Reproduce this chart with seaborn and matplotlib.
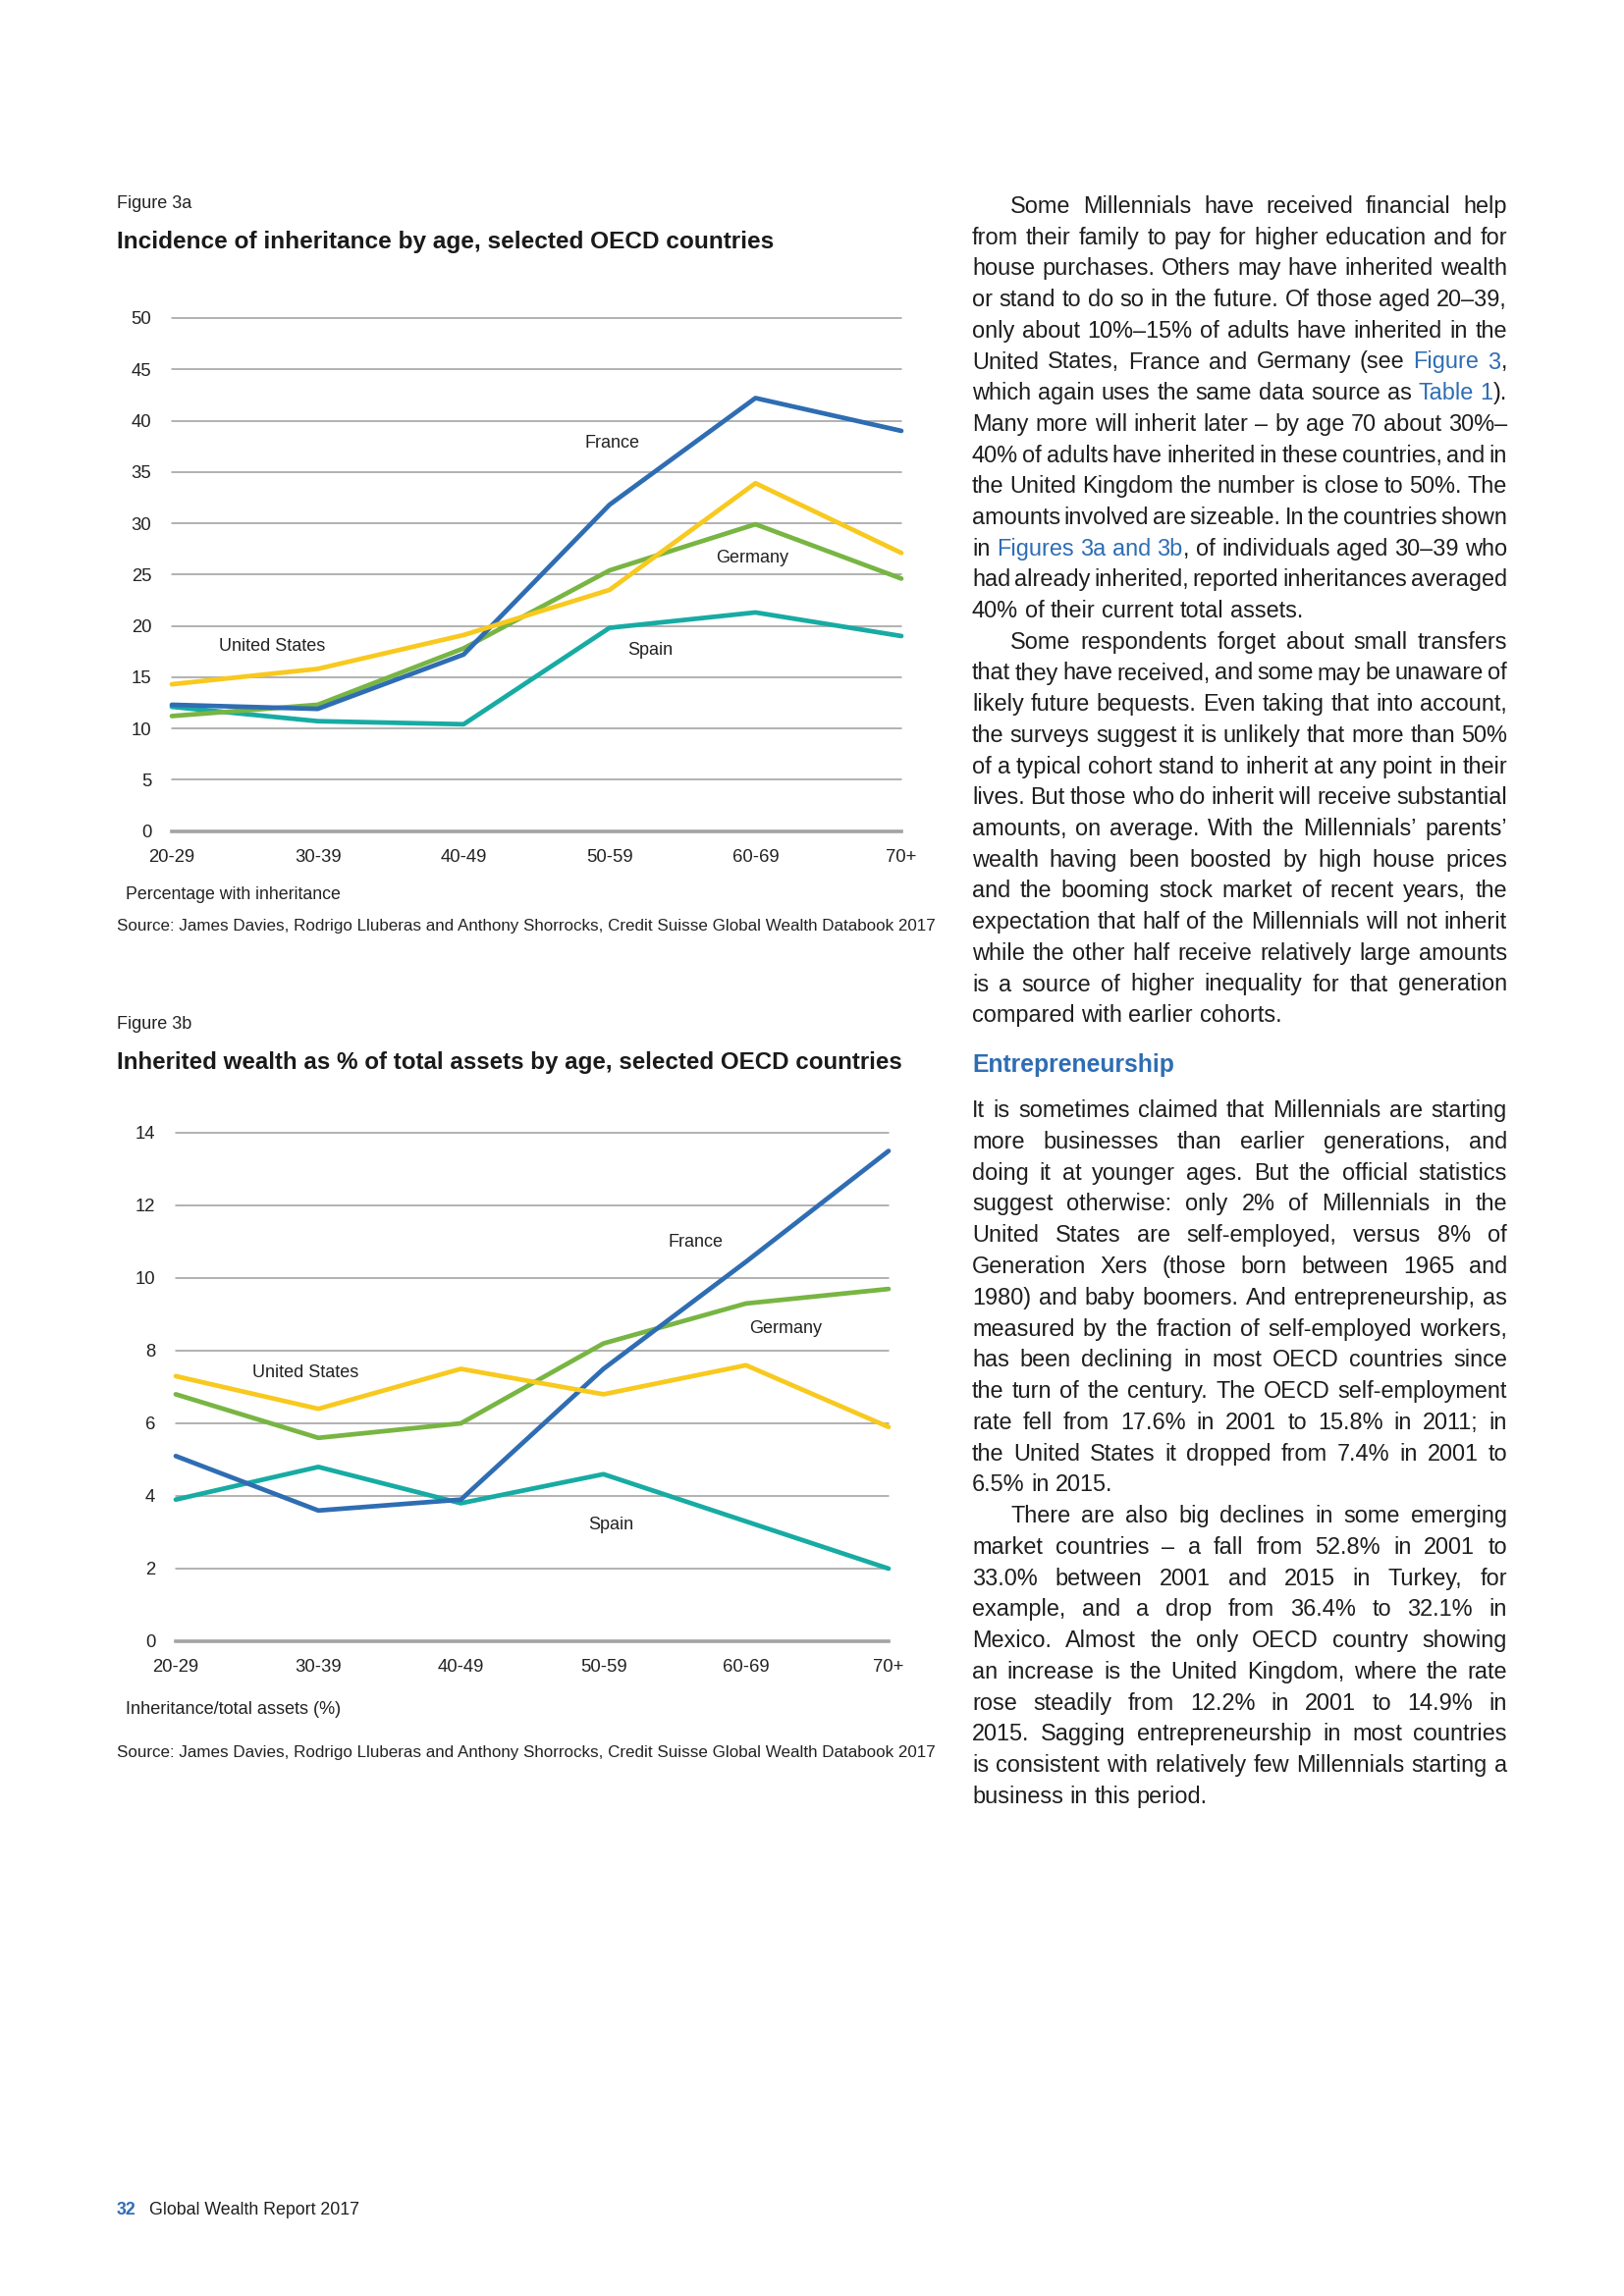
import numpy as np
import pandas as pd
import matplotlib
matplotlib.use("Agg")
import matplotlib.pyplot as plt
from matplotlib import font_manager
import seaborn as sns

# ---- chart data ----
ages = ['20-29', '30-39', '40-49', '50-59', '60-69', '70+']
countries = ['Spain', 'Germany', 'France', 'United States']

france_a = [12.3, 11.9, 17.2, 31.8, 42.2, 39.0]
us_a = [14.3, 15.8, 19.1, 23.5, 33.9, 27.1]
germany_a = [11.2, 12.3, 17.8, 25.4, 29.9, 24.6]
spain_a = [12.1, 10.7, 10.4, 19.8, 21.3, 19.0]

france_b = [5.1, 3.6, 3.9, 7.5, 10.45, 13.5]
us_b = [7.3, 6.4, 7.5, 6.8, 7.6, 5.9]
germany_b = [6.8, 5.6, 6.0, 8.2, 9.3, 9.7]
spain_b = [3.9, 4.8, 3.8, 4.6, 3.3, 2.0]

yticks_a = [0, 5, 10, 15, 20, 25, 30, 35, 40, 45, 50]
yticks_b = [0, 2, 4, 6, 8, 10, 12, 14]

palette = {'France': '#2F6DB3', 'United States': '#F8C91E',
           'Germany': '#78B543', 'Spain': '#17ABA3'}

# in-chart series labels: (text, x position, y value)
labels_a = [('France', 3.02, 37.8), ('Germany', 3.98, 26.6),
            ('United States', 0.69, 18.0), ('Spain', 3.28, 17.6)]
labels_b = [('France', 3.65, 11.0), ('Germany', 4.28, 8.6),
            ('United States', 0.91, 7.4), ('Spain', 3.05, 3.2)]

sns.set_style("white")
names = [f.name for f in font_manager.fontManager.ttflist]
chart_font = 'Liberation Sans Narrow' if 'Liberation Sans Narrow' in names else 'Liberation Sans'
plt.rcParams['font.family'] = ['Liberation Sans', 'DejaVu Sans']

W, H = 1654, 2339
fig = plt.figure(figsize=(W / 100, H / 100), dpi=100)
fig.patch.set_facecolor('white')

TICK_FS = 13.3
LABEL_FS = 13.0
TXT = '#222222'


def long_df(fr, us, ge, sp):
    rows = []
    for name, vals in [('Spain', sp), ('Germany', ge), ('France', fr), ('United States', us)]:
        for i, v in enumerate(vals):
            rows.append({'pos': i, 'value': v, 'country': name})
    return pd.DataFrame(rows)


def make_chart(rect, df, yticks, ymax, labels):
    ax = fig.add_axes(rect)
    sns.lineplot(data=df, x='pos', y='value', hue='country', hue_order=countries,
                 palette=palette, linewidth=3.4, legend=False, ax=ax, sort=False)
    ax.set_xlim(0, len(ages) - 1)
    ax.set_ylim(0, ymax)
    ax.set_yticks(yticks)
    ax.set_yticklabels([str(t) for t in yticks], family=chart_font, fontsize=TICK_FS, color=TXT)
    ax.set_xticks(range(len(ages)))
    ax.set_xticklabels(ages, family=chart_font, fontsize=TICK_FS, color=TXT)
    ax.set_xlabel('')
    ax.set_ylabel('')
    for t in yticks[1:]:
        ax.axhline(t, color='#9C9C9C', lw=1.1, zorder=0)
    for s in ['top', 'right', 'left']:
        ax.spines[s].set_visible(False)
    ax.spines['bottom'].set_color('#A3A3A3')
    ax.spines['bottom'].set_linewidth(2.6)
    ax.tick_params(axis='x', direction='out', length=6, width=1.8, color='#A3A3A3', pad=7)
    ax.tick_params(axis='y', length=0, pad=15)
    for line in ax.get_lines():
        line.set_clip_on(False)
    for txt, x, y in labels:
        ax.text(x, y, txt, ha='center', va='center', family=chart_font,
                fontsize=LABEL_FS, color=TXT)
    ax.set_facecolor('none')
    return ax


make_chart([175 / W, 1 - 846.5 / H, 743 / W, 522.5 / H],
           long_df(france_a, us_a, germany_a, spain_a), yticks_a, 50, labels_a)
make_chart([179 / W, 1 - 1672 / H, 726 / W, 518 / H],
           long_df(france_b, us_b, germany_b, spain_b), yticks_b, 14, labels_b)

# overlay in page pixel coordinates for the text
page = fig.add_axes([0, 0, 1, 1], zorder=-1)
page.set_xlim(0, W)
page.set_ylim(H, 0)
page.axis('off')

src = 'Source: James Davies, Rodrigo Lluberas and Anthony Shorrocks, Credit Suisse Global Wealth Databook 2017'
page.text(119, 207.5, 'Figure 3a', family=chart_font, fontsize=13, va='center', color=TXT)
page.text(119, 246, 'Incidence of inheritance by age, selected OECD countries', family=chart_font,
          fontsize=17.6, fontweight='bold', va='center', color='#1a1a1a')
page.text(128, 911, 'Percentage with inheritance', family=chart_font, fontsize=12.8, va='center', color=TXT)
page.text(119, 943.5, src, family=chart_font, fontsize=12.25, va='center', color=TXT)

page.text(119, 1043.6, 'Figure 3b', family=chart_font, fontsize=13, va='center', color=TXT)
page.text(119, 1082.4, 'Inherited wealth as % of total assets by age, selected OECD countries',
          family=chart_font, fontsize=17.4, fontweight='bold', va='center', color='#1a1a1a')
page.text(128, 1741, 'Inheritance/total assets (%)', family=chart_font, fontsize=13.1, va='center', color=TXT)
page.text(119, 1785.6, src, family=chart_font, fontsize=12.25, va='center', color=TXT)

# ---- right-hand column text; |...| marks blue link text ----
# (line, indented first line, last line of paragraph)
block1 = [
    ("Some Millennials have received financial help", True, False),
    ("from their family to pay for higher education and for", False, False),
    ("house purchases. Others may have inherited wealth", False, False),
    ("or stand to do so in the future. Of those aged 20–39,", False, False),
    ("only about 10%–15% of adults have inherited in the", False, False),
    ("United States, France and Germany (see |Figure 3|,", False, False),
    ("which again uses the same data source as |Table 1|).", False, False),
    ("Many more will inherit later – by age 70 about 30%–", False, False),
    ("40% of adults have inherited in these countries, and in", False, False),
    ("the United Kingdom the number is close to 50%. The", False, False),
    ("amounts involved are sizeable. In the countries shown", False, False),
    ("in |Figures 3a and 3b|, of individuals aged 30–39 who", False, False),
    ("had already inherited, reported inheritances averaged", False, False),
    ("40% of their current total assets.", False, True),
    ("Some respondents forget about small transfers", True, False),
    ("that they have received, and some may be unaware of", False, False),
    ("likely future bequests. Even taking that into account,", False, False),
    ("the surveys suggest it is unlikely that more than 50%", False, False),
    ("of a typical cohort stand to inherit at any point in their", False, False),
    ("lives. But those who do inherit will receive substantial", False, False),
    ("amounts, on average. With the Millennials’ parents’", False, False),
    ("wealth having been boosted by high house prices", False, False),
    ("and the booming stock market of recent years, the", False, False),
    ("expectation that half of the Millennials will not inherit", False, False),
    ("while the other half receive relatively large amounts", False, False),
    ("is a source of higher inequality for that generation", False, False),
    ("compared with earlier cohorts.", False, True),
]
block2 = [
    ("It is sometimes claimed that Millennials are starting", False, False),
    ("more businesses than earlier generations, and", False, False),
    ("doing it at younger ages. But the official statistics", False, False),
    ("suggest otherwise: only 2% of Millennials in the", False, False),
    ("United States are self-employed, versus 8% of", False, False),
    ("Generation Xers (those born between 1965 and", False, False),
    ("1980) and baby boomers. And entrepreneurship, as", False, False),
    ("measured by the fraction of self-employed workers,", False, False),
    ("has been declining in most OECD countries since", False, False),
    ("the turn of the century. The OECD self-employment", False, False),
    ("rate fell from 17.6% in 2001 to 15.8% in 2011; in", False, False),
    ("the United States it dropped from 7.4% in 2001 to", False, False),
    ("6.5% in 2015.", False, True),
    ("There are also big declines in some emerging", True, False),
    ("market countries – a fall from 52.8% in 2001 to", False, False),
    ("33.0% between 2001 and 2015 in Turkey, for", False, False),
    ("example, and a drop from 36.4% to 32.1% in", False, False),
    ("Mexico. Almost the only OECD country showing", False, False),
    ("an increase is the United Kingdom, where the rate", False, False),
    ("rose steadily from 12.2% in 2001 to 14.9% in", False, False),
    ("2015. Sagging entrepreneurship in most countries", False, False),
    ("is consistent with relatively few Millennials starting a", False, False),
    ("business in this period.", False, True),
]

renderer = fig.canvas.get_renderer()
COL_X0, COL_X1 = 990, 1535
INDENT = 39
BLUE = '#2E6DB4'


def text_width(s, fs, weight='normal'):
    t = page.text(0, 0, s, fontsize=fs, fontweight=weight)
    w = t.get_window_extent(renderer).width
    t.remove()
    return w


# pick the largest body size at which every justified line still fits with a small gap
base = 10.0
space10 = text_width('a a', base) - text_width('aa', base)
best = 17.0
for line, indent, last in block1 + block2:
    if last:
        continue
    words = line.replace('|', '').split(' ')
    need = sum(text_width(w, base) for w in words) + (len(words) - 1) * 0.55 * space10
    avail = COL_X1 - COL_X0 - (INDENT if indent else 0)
    best = min(best, base * avail / need)
BODY_FS = best


def draw_block(lines, y0, dy):
    blue = False
    space = text_width('a a', BODY_FS) - text_width('aa', BODY_FS)
    for i, (line, indent, last) in enumerate(lines):
        y = y0 + i * dy
        x_start = COL_X0 + (INDENT if indent else 0)
        words = []
        for w in line.split(' '):
            segs = []
            for k, p in enumerate(w.split('|')):
                if k > 0:
                    blue = not blue
                if p:
                    t = page.text(0, y, p, fontsize=BODY_FS, va='center', ha='left',
                                  color=BLUE if blue else '#1e1e1e')
                    segs.append((t, t.get_window_extent(renderer).width))
            words.append(segs)
        widths = [sum(s[1] for s in segs) for segs in words]
        if last or len(words) < 2:
            gap = space
        else:
            gap = (COL_X1 - x_start - sum(widths)) / (len(words) - 1)
        x = x_start
        for segs, wd in zip(words, widths):
            xx = x
            for t, sw in segs:
                t.set_position((xx, y))
                xx += sw
            x += wd + gap


draw_block(block1, 210.5, 31.7)
page.text(COL_X0, 1085.4, 'Entrepreneurship', fontsize=17.8, fontweight='bold', color=BLUE, va='center')
draw_block(block2, 1131.7, 31.76)

# footer
page.text(119, 2251.5, '32', fontsize=12.8, fontweight='bold', color=BLUE, va='center')
page.text(152, 2251.5, 'Global Wealth Report 2017', fontsize=12.8, color='#1e1e1e', va='center')

fig.savefig('out.png', dpi=100, facecolor='white')
